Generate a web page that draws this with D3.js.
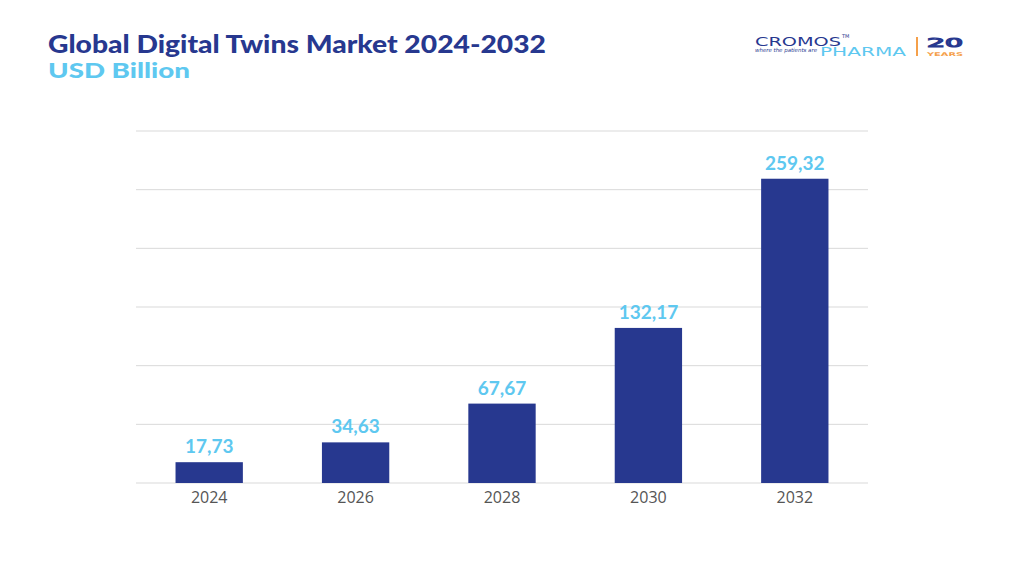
<!DOCTYPE html>
<html><head><meta charset="utf-8">
<script src="https://cdn.jsdelivr.net/npm/d3@7"></script>
<style>body{margin:0;background:#fff;}svg{display:block;}</style>
</head><body>
<svg id="c" width="1024" height="576"></svg>
<script>
const years = ["2024","2026","2028","2030","2032"];
const values = [17.73, 34.63, 67.67, 132.17, 259.32];
const valueLabels = ["17,73","34,63","67,67","132,17","259,32"];
const yTicks = [0,50,100,150,200,250,300];

const navy = "#27388f", light = "#5ec8f0";
const svg = d3.select("#c");
const x = d3.scaleBand().domain(years).range([136,868]).paddingInner(0.54).paddingOuter(0.27);
const y = d3.scaleLinear().domain([0,300]).range([483,131]);

svg.append("g").selectAll("line").data(yTicks).join("line")
  .attr("x1",136).attr("x2",868).attr("y1",d=>y(d)).attr("y2",d=>y(d))
  .attr("stroke","#d9d9d9").attr("stroke-width",1);

svg.append("g").selectAll("rect").data(values).join("rect")
  .attr("x",(d,i)=>x(years[i])).attr("width",x.bandwidth())
  .attr("y",d=>y(d)).attr("height",d=>y(0)-y(d)).attr("fill",navy);

svg.append("g").selectAll("text").data(values).join("text")
  .attr("x",(d,i)=>x(years[i])+x.bandwidth()/2).attr("y",d=>y(d)-9)
  .attr("text-anchor","middle").attr("font-family","Lato").attr("font-weight","bold")
  .attr("font-size",19).attr("fill",light).text((d,i)=>valueLabels[i]);

const xa = svg.append("g").attr("transform","translate(0,483)").call(d3.axisBottom(x).tickSize(0).tickPadding(9));
xa.select(".domain").remove();
xa.selectAll("text").attr("font-family","Open Sans").attr("font-size",16).attr("fill","#555");

svg.append("text").attr("x",48).attr("y",53).attr("font-family","Lato").attr("font-weight",900)
  .attr("font-size",24).attr("fill",navy).text("Global Digital Twins Market 2024-2032")
  .attr("textLength",498).attr("lengthAdjust","spacingAndGlyphs");
svg.append("text").attr("x",48).attr("y",78).attr("font-family","Lato").attr("font-weight",900)
  .attr("font-size",20).attr("fill",light).text("USD Billion")
  .attr("textLength",142).attr("lengthAdjust","spacingAndGlyphs");

// logo
const lg = svg.append("g");
lg.append("text").attr("x",755).attr("y",46).attr("font-family","DejaVu Sans").attr("font-size",13)
  .attr("fill",navy).attr("textLength",86).attr("lengthAdjust","spacingAndGlyphs").text("CROMOS");
lg.append("text").attr("x",842).attr("y",38).attr("font-family","DejaVu Sans").attr("font-size",5).attr("fill",navy).text("TM");
lg.append("text").attr("x",755).attr("y",52).attr("font-family","DejaVu Sans").attr("font-style","italic").attr("font-size",5.5)
  .attr("fill",navy).attr("textLength",62).attr("lengthAdjust","spacingAndGlyphs").text("where the patients are");
lg.append("text").attr("x",820).attr("y",56).attr("font-family","DejaVu Sans").attr("font-size",13)
  .attr("fill",light).attr("textLength",86).attr("lengthAdjust","spacingAndGlyphs").text("PHARMA");
lg.append("rect").attr("x",916).attr("y",37).attr("width",2).attr("height",19).attr("fill","#f5a04a");
lg.append("text").attr("x",927).attr("y",47).attr("font-family","DejaVu Sans").attr("font-size",13)
  .attr("fill","none").attr("stroke",navy).attr("stroke-width",1.2)
  .attr("textLength",36).attr("lengthAdjust","spacingAndGlyphs").text("20");
lg.append("text").attr("x",927).attr("y",55.5).attr("font-family","DejaVu Sans").attr("font-weight","bold").attr("font-size",5)
  .attr("fill","#f5a04a").attr("textLength",36).attr("lengthAdjust","spacingAndGlyphs").text("YEARS");
</script>
</body></html>
